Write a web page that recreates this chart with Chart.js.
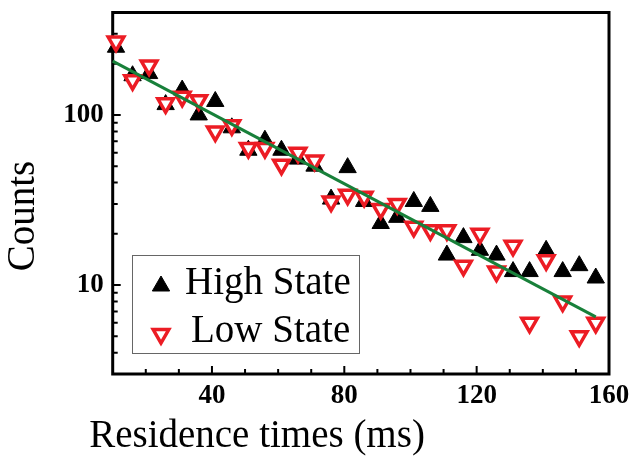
<!DOCTYPE html>
<html lang="en">
<head>
    <meta charset="UTF-8">
    <title>Residence times</title>
    <style>
        body { margin: 0; background: #fff; }
        #wrap { width: 632px; height: 473px; }
    </style>
</head>
<body>
    <div id="wrap">
        <canvas id="resChart" width="632" height="473"></canvas>
    </div>

    <script src="https://cdn.jsdelivr.net/npm/chart.js"></script>
<script>
    // residence time bins (ms)
    const timesMs = [11, 16, 21, 26, 31, 36, 41, 46, 51, 56, 61, 66, 71, 76, 81,
                     86, 91, 96, 101, 106, 111, 116, 121, 126, 131, 136, 141, 146, 151, 156];
    const highCounts = [250, 170, 175, 115, 140, 100, 120, 84, 62, 71, 62, 55, 50, 32, 49,
                        31, 23, 25, 31, 29, 15, 19, 16, 15, 12, 12, 16, 12, 13, 11];
    const lowCounts = [270, 160, 195, 117, 128, 122, 80, 87, 64, 64, 51, 60, 54, 31, 34,
                       33, 28, 30, 22, 21, 21, 13, 20, 12, 17, 6, 14, 8, 5, 6];

    // exponential fit, end points
    const fitX = [10, 156];
    const fitY = [207, 6.5];

    const xTicks = [20, 30, 40, 50, 60, 70, 80, 90, 100, 110, 120, 130, 140, 150, 160];
    const xLabels = [40, 80, 120, 160];
    const yTicks = [3, 4, 5, 6, 7, 8, 9, 10, 20, 30, 40, 50, 60, 70, 80, 90, 100, 200, 300, 400];
    const yLabels = [10, 100];

    const serif = "'Liberation Serif', 'Times New Roman', serif";
    const RED = '#ec1c24';
    const GREEN = '#18803a';

    const toPoints = (xs, ys) => xs.map((x, i) => ({ x: x, y: ys[i] }));

    // frame, inward ticks, axis titles and legend
    const framePlugin = {
        id: 'frame',
        beforeDatasetsDraw(chart) {
            const ctx = chart.ctx;
            const a = chart.chartArea;
            const xs = chart.scales.x;
            const ys = chart.scales.y;
            ctx.save();
            ctx.strokeStyle = '#000';
            ctx.lineWidth = 2;
            ctx.beginPath();
            xTicks.forEach(v => {
                const px = xs.getPixelForValue(v);
                const len = xLabels.includes(v) ? 8 : 5;
                ctx.moveTo(px, a.bottom);
                ctx.lineTo(px, a.bottom - len);
            });
            yTicks.forEach(v => {
                const py = ys.getPixelForValue(v);
                const len = yLabels.includes(v) ? 8 : 5;
                ctx.moveTo(a.left, py);
                ctx.lineTo(a.left + len, py);
            });
            ctx.stroke();
            ctx.lineWidth = 3;
            ctx.strokeRect(a.left, a.top, a.right - a.left, a.bottom - a.top);
            ctx.restore();
        },
        afterDraw(chart) {
            const ctx = chart.ctx;
            ctx.save();
            ctx.fillStyle = '#000';
            ctx.font = '39px ' + serif;
            ctx.textAlign = 'center';
            ctx.textBaseline = 'middle';
            ctx.fillText('Residence times (ms)', 257, 437);
            ctx.translate(24, 216);
            ctx.rotate(-Math.PI / 2);
            ctx.fillText('Counts', 0, 0);
            ctx.restore();

            // legend box
            ctx.save();
            ctx.fillStyle = '#fff';
            ctx.fillRect(132, 255, 227, 98);
            ctx.strokeStyle = '#666';
            ctx.lineWidth = 1;
            ctx.strokeRect(132.5, 255.5, 227, 98);
            const rows = [
                { ds: chart.data.datasets[2], y: 286, tx: 185 },
                { ds: chart.data.datasets[1], y: 334, tx: 191 }
            ];
            rows.forEach(r => {
                ctx.fillStyle = r.ds.pointBackgroundColor;
                ctx.strokeStyle = r.ds.pointBorderColor;
                ctx.lineWidth = r.ds.pointBorderWidth;
                Chart.helpers.drawPoint(ctx, {
                    pointStyle: r.ds.pointStyle,
                    rotation: r.ds.pointRotation,
                    radius: r.ds.pointRadius,
                    borderWidth: r.ds.pointBorderWidth
                }, 161, r.y);
                ctx.fillStyle = '#000';
                ctx.font = '39px ' + serif;
                ctx.textAlign = 'left';
                ctx.textBaseline = 'alphabetic';
                ctx.fillText(r.ds.label, r.tx, r.y + 8);
            });
            ctx.restore();
        }
    };

    const ctx = document.getElementById('resChart').getContext('2d');
    const resChart = new Chart(ctx, {
        type: 'scatter',
        data: {
            datasets: [{
                label: 'Fit',
                data: toPoints(fitX, fitY),
                showLine: true,
                borderColor: GREEN,
                borderWidth: 3,
                pointRadius: 0,
                order: 0,
                clip: false
            }, {
                label: 'Low State',
                data: toPoints(timesMs, lowCounts),
                pointStyle: 'triangle',
                pointRotation: 180,
                pointRadius: 9,
                pointBorderWidth: 3.5,
                pointBackgroundColor: '#fff',
                pointBorderColor: RED,
                order: 1,
                clip: false
            }, {
                label: 'High State',
                data: toPoints(timesMs, highCounts),
                pointStyle: 'triangle',
                pointRadius: 10,
                pointBorderWidth: 1,
                pointBackgroundColor: '#000',
                pointBorderColor: '#000',
                order: 2,
                clip: false
            }]
        },
        options: {
            responsive: false,
            animation: false,
            events: [],
            layout: { padding: { top: 6, right: 23, left: 0, bottom: 0 } },
            plugins: {
                legend: { display: false },
                tooltip: { enabled: false }
            },
            scales: {
                x: {
                    type: 'linear',
                    min: 10,
                    max: 160,
                    grid: { display: false, drawTicks: false },
                    border: { display: false },
                    afterBuildTicks: s => { s.ticks = xTicks.map(v => ({ value: v })); },
                    afterFit: s => {
                        s.height = 99;
                        s.paddingLeft = 0;
                        s.paddingRight = 0;
                    },
                    ticks: {
                        autoSkip: false,
                        maxRotation: 0,
                        padding: 6,
                        color: '#000',
                        font: { family: serif, size: 27, weight: 'bold' },
                        callback: v => xLabels.includes(v) ? String(v) : ''
                    }
                },
                y: {
                    type: 'logarithmic',
                    min: 3,
                    max: 400,
                    grid: { display: false, drawTicks: false },
                    border: { display: false },
                    afterBuildTicks: s => { s.ticks = yTicks.map(v => ({ value: v })); },
                    afterFit: s => {
                        s.width = 112.7;
                        s.paddingTop = 0;
                        s.paddingBottom = 0;
                    },
                    ticks: {
                        autoSkip: false,
                        padding: 9,
                        color: '#000',
                        font: { family: serif, size: 27, weight: 'bold' },
                        callback: v => yLabels.includes(v) ? String(v) : ''
                    }
                }
            }
        },
        plugins: [framePlugin]
    });
</script>

</body>
</html>
